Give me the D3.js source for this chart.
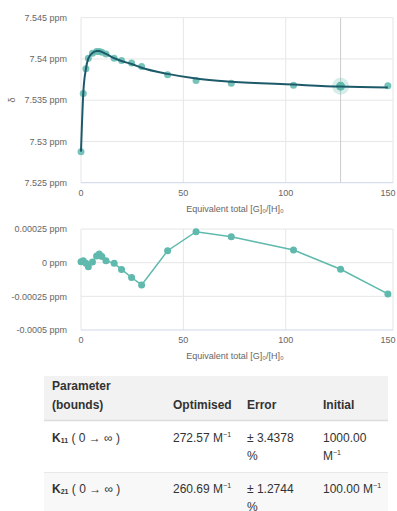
<!DOCTYPE html>
<html><head><meta charset="utf-8">
<script src="https://cdn.jsdelivr.net/npm/d3@7"></script>
<style>
html,body{margin:0;padding:0;background:#fff;}
svg{display:block;font-family:"Liberation Sans",Arial,sans-serif;}
</style></head><body>
<svg id="c" width="397" height="511"></svg>
<script>
// ---- data ----
const xEq = [0, 1.1, 2.4, 3.6, 5.6, 7.6, 8.9, 10.2, 12.2, 16.2, 19.8, 24.7, 29.6, 42.3, 56.2, 73.4, 103.8, 126.8, 149.9];
const obsShift = [7.52876, 7.5358, 7.5388, 7.5401, 7.5407, 7.5409, 7.5409, 7.5408, 7.5406, 7.5401, 7.5398, 7.5395, 7.5391, 7.5381, 7.5374, 7.53705, 7.5368, 7.5367, 7.53676];
const fitShift = [7.52877, 7.53582, 7.53880, 7.54007, 7.54071, 7.54095, 7.54097, 7.54085, 7.54062, 7.54010, 7.53975, 7.53939, 7.53894, 7.53819, 7.53763, 7.53724, 7.53689, 7.53665, 7.53653];
const residual = [0.000007, 0.000015, -0.000005, -0.00003, 0.000005, 0.00005, 0.000065, 0.000045, 0.000015, -0.000005, -0.00005, -0.00011, -0.000165, 0.000089, 0.00023, 0.000193, 0.000094, -0.000049, -0.000232];
const xTicks = [0, 50, 100, 150];
const yTicksTop = [7.525, 7.53, 7.535, 7.54, 7.545];
const yTickLabelsTop = ["7.525 ppm", "7.53 ppm", "7.535 ppm", "7.54 ppm", "7.545 ppm"];
const yTicksRes = [-0.0005, -0.00025, 0, 0.00025];
const yTickLabelsRes = ["-0.0005 ppm", "-0.00025 ppm", "0 ppm", "0.00025 ppm"];
const highlightIndex = 17;
const xTitle = "Equivalent total [G]₀/[H]₀";
const tableHeader = [["Parameter", "(bounds)"], ["Optimised"], ["Error"], ["Initial"]];
const paramNames = [["K", "11"], ["K", "21"]];
const paramBounds = ["( 0 → ∞ )", "( 0 → ∞ )"];
const optimised = ["272.57", "260.69"];
const errors = ["± 3.4378", "± 1.2744"];
const initial = ["1000.00", "100.00"];

// ---- drawing ----
const svg = d3.select("#c");
const pointColor = "#5fb9ad";
const fitColor = "#1c5a6a";
const gridColor = "#e6e6e6";
const axisColor = "#ccd6eb";
const labelColor = "#666";

const x = d3.scaleLinear().domain([0, 152.4]).range([81, 393]);
const yTop = d3.scaleLinear().domain([7.525, 7.545]).range([182.7, 17.7]);
const yRes = d3.scaleLinear().domain([-0.0005, 0.00025]).range([330, 229]);

function panel(y, yTicks, yLabels, xLabelBase, titleBase) {
  const g = svg.append("g");
  const [y0, y1] = y.range();
  g.selectAll("line.hg").data(yTicks.slice(1)).join("line")
    .attr("x1", 81).attr("x2", 393).attr("y1", d => y(d)).attr("y2", d => y(d))
    .attr("stroke", gridColor).attr("stroke-width", 1);
  g.selectAll("line.vg").data(xTicks.slice(0, 3)).join("line")
    .attr("x1", d => x(d)).attr("x2", d => x(d)).attr("y1", y1).attr("y2", y0)
    .attr("stroke", gridColor);
  g.append("line").attr("x1", 393).attr("x2", 393).attr("y1", y1).attr("y2", y0).attr("stroke", gridColor);
  g.append("line").attr("x1", 81).attr("x2", 393).attr("y1", y0).attr("y2", y0).attr("stroke", axisColor);
  g.selectAll("text.yl").data(yTicks).join("text")
    .attr("x", 67).attr("y", d => y(d) + 3.2).attr("text-anchor", "end")
    .attr("font-size", 9).attr("fill", labelColor).text((d, i) => yLabels[i]);
  g.selectAll("text.xl").data(xTicks).join("text")
    .attr("x", d => Math.min(x(d), 389)).attr("y", xLabelBase).attr("text-anchor", "middle")
    .attr("font-size", 9).attr("fill", labelColor).text(d => d);
  g.append("text").attr("x", 235).attr("y", titleBase).attr("text-anchor", "middle")
    .attr("font-size", 9).attr("fill", labelColor).text(xTitle);
  return g;
}

// top panel
panel(yTop, yTicksTop, yTickLabelsTop, 196, 212);
svg.append("text").attr("transform", "translate(15,100) rotate(-90)").attr("text-anchor", "middle")
  .attr("font-size", 9).attr("fill", labelColor).text("δ");
svg.append("line").attr("x1", x(xEq[highlightIndex])).attr("x2", x(xEq[highlightIndex]))
  .attr("y1", 17.7).attr("y2", 182.7).attr("stroke", "#cccccc").attr("stroke-width", 1);
svg.append("g").selectAll("circle").data(xEq).join("circle")
  .attr("cx", d => x(d)).attr("cy", (d, i) => yTop(obsShift[i])).attr("r", 3.5)
  .attr("fill", pointColor).attr("fill-opacity", 0.85);
svg.append("circle").attr("cx", x(xEq[highlightIndex])).attr("cy", yTop(obsShift[highlightIndex]))
  .attr("r", 8.5).attr("fill", pointColor).attr("fill-opacity", 0.25);
svg.append("circle").attr("cx", x(xEq[highlightIndex])).attr("cy", yTop(obsShift[highlightIndex]))
  .attr("r", 4.5).attr("fill", pointColor);
const fitLine = d3.line().x((d, i) => x(xEq[i])).y(d => yTop(d)).curve(d3.curveMonotoneX);
svg.append("path").attr("d", fitLine(fitShift)).attr("fill", "none")
  .attr("stroke", fitColor).attr("stroke-width", 2);

// residual panel
panel(yRes, yTicksRes, yTickLabelsRes, 343, 359);
const resLine = d3.line().x((d, i) => x(xEq[i])).y(d => yRes(d));
svg.append("path").attr("d", resLine(residual)).attr("fill", "none")
  .attr("stroke", pointColor).attr("stroke-width", 1.5);
svg.append("g").selectAll("circle").data(residual).join("circle")
  .attr("cx", (d, i) => x(xEq[i])).attr("cy", d => yRes(d)).attr("r", 3.5).attr("fill", pointColor);

// ---- table ----
const tg = svg.append("g").attr("font-size", 12).attr("fill", "#333");
tg.append("rect").attr("x", 44).attr("y", 376).attr("width", 344).attr("height", 44).attr("fill", "#f2f2f2");
tg.append("line").attr("x1", 44).attr("x2", 388).attr("y1", 420.5).attr("y2", 420.5).attr("stroke", "#dcdcdc").attr("stroke-width", 1.5);
tg.append("rect").attr("x", 44).attr("y", 473).attr("width", 344).attr("height", 38).attr("fill", "#f8f8f8");
tg.append("line").attr("x1", 44).attr("x2", 388).attr("y1", 472.5).attr("y2", 472.5).attr("stroke", "#e8e8e8");
const colX = [52, 173, 247, 323];
tableHeader.forEach((lines, c) => {
  lines.forEach((t, k) => {
    const yy = lines.length === 2 ? 390 + k * 19 : 409;
    tg.append("text").attr("x", colX[c]).attr("y", yy).attr("font-weight", "bold").text(t);
  });
});
const rowBase = [442, 493];
paramNames.forEach((p, r) => {
  const t = tg.append("text").attr("x", colX[0]).attr("y", rowBase[r]);
  t.append("tspan").attr("font-weight", "bold").text(p[0]);
  t.append("tspan").attr("font-weight", "bold").attr("font-size", 7).attr("dy", 1).text(p[1]);
  t.append("tspan").attr("font-size", 12).attr("dy", -1).text(" " + paramBounds[r]);
  const o = tg.append("text").attr("x", colX[1]).attr("y", rowBase[r]);
  o.append("tspan").text(optimised[r] + " M");
  o.append("tspan").attr("font-size", 7).attr("dy", -5).text("−1");
  tg.append("text").attr("x", colX[2]).attr("y", rowBase[r]).text(errors[r]);
  tg.append("text").attr("x", colX[2]).attr("y", rowBase[r] + 18).text("%");
  if (r === 0) {
    tg.append("text").attr("x", colX[3]).attr("y", rowBase[r]).text(initial[r]);
    const m = tg.append("text").attr("x", colX[3]).attr("y", rowBase[r] + 18);
    m.append("tspan").text("M");
    m.append("tspan").attr("font-size", 7).attr("dy", -5).text("−1");
  } else {
    const m = tg.append("text").attr("x", colX[3]).attr("y", rowBase[r]);
    m.append("tspan").text(initial[r] + " M");
    m.append("tspan").attr("font-size", 7).attr("dy", -5).text("−1");
  }
});
</script>
</body></html>
